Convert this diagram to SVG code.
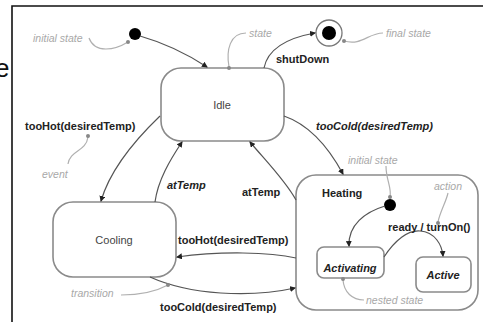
<svg xmlns="http://www.w3.org/2000/svg" width="483" height="322" viewBox="0 0 483 322">
<defs>
<marker id="arr" viewBox="0 0 6 6" refX="5" refY="3" markerWidth="5" markerHeight="5" orient="auto">
<path d="M0,0 L6,3 L0,6 Z" fill="#222"/>
</marker>
<style>
.node{fill:#fff;stroke:#8a8a8a;stroke-width:1.6}
.conn{fill:none;stroke:#555;stroke-width:1.2}
.note{fill:none;stroke:#b0b0b0;stroke-width:1.2}
.dot{fill:#888}
.lbl{font-family:"Liberation Sans",Arial,sans-serif;font-size:11px;font-weight:bold;fill:#222}
.ann{font-family:"Liberation Sans",Arial,sans-serif;font-size:10.5px;font-style:italic;fill:#a8a8a8}
.name{font-family:"Liberation Sans",Arial,sans-serif;font-size:11px;fill:#444;text-anchor:middle}
</style>
</defs>
<rect width="483" height="322" fill="#fff"/>
<text x="-5" y="77" font-family="Liberation Sans, Arial, sans-serif" font-size="26" fill="#111">e</text>
<path d="M12,322 V6 H483" fill="none" stroke="#111" stroke-width="1.6"/>

<g id="initial">
<circle cx="135" cy="34" r="6" fill="#000"/>
</g>
<g id="final">
<circle cx="329" cy="33" r="13" fill="#fff" stroke="#777" stroke-width="1.3"/>
<circle cx="329" cy="33" r="7" fill="#000"/>
</g>
<g id="idle">
<rect class="node" x="161" y="68" width="123" height="73" rx="20"/>
<text class="name" x="222" y="109">Idle</text>
</g>
<g id="cooling">
<rect class="node" x="53" y="202" width="123" height="75" rx="20"/>
<text class="name" x="114" y="244" font-size="12">Cooling</text>
</g>
<g id="heating">
<rect class="node" x="296" y="175" width="182" height="135" rx="20"/>
<text class="lbl" x="322" y="197">Heating</text>
</g>
<g id="heating-initial">
<circle cx="390" cy="205" r="6" fill="#000"/>
</g>
<g id="activating">
<rect class="node" x="317" y="247" width="67" height="31" rx="7"/>
<text class="lbl" x="350" y="272" text-anchor="middle" font-style="italic">Activating</text>
</g>
<g id="active">
<rect class="node" x="416" y="257" width="55" height="35" rx="7"/>
<text class="lbl" x="443" y="279" text-anchor="middle" font-style="italic">Active</text>
</g>

<g id="connectors">
<path class="conn" d="M140,36 Q175,46 207,67" marker-end="url(#arr)"/>
<path class="conn" d="M264,68 C268,48 287,38 315,33" marker-end="url(#arr)"/>
<path class="conn" d="M160,116 C135,140 110,170 101,201" marker-end="url(#arr)"/>
<path class="conn" d="M155,202 C158,180 170,160 182,142" marker-end="url(#arr)"/>
<path class="conn" d="M284,116 C310,125 330,150 343,174" marker-end="url(#arr)"/>
<path class="conn" d="M296,200 C285,180 265,160 250,142" marker-end="url(#arr)"/>
<path class="conn" d="M296,258 C270,252 220,251 177,257" marker-end="url(#arr)"/>
<path class="conn" d="M150,277 C190,295 250,298 295,288" marker-end="url(#arr)"/>
<path class="conn" d="M385,206 C365,212 348,225 349,246" marker-end="url(#arr)"/>
<path class="conn" d="M384,257 C395,240 408,230 420,231 C435,232 442,245 443,256" marker-end="url(#arr)"/>
</g>

<g id="labels">
<text class="lbl" x="276" y="63">shutDown</text>
<text class="lbl" x="25" y="130">tooHot(desiredTemp)</text>
<text class="lbl" x="316" y="130" font-style="italic">tooCold(desiredTemp)</text>
<text class="lbl" x="167" y="189" font-style="italic">atTemp</text>
<text class="lbl" x="242" y="196">atTemp</text>
<text class="lbl" x="178" y="244">tooHot(desiredTemp)</text>
<text class="lbl" x="160" y="311">tooCold(desiredTemp)</text>
<text class="lbl" x="388" y="231">ready / turnOn()</text>
</g>

<g id="annotations">
<text class="ann" x="33" y="42">initial state</text>
<path class="note" d="M89,38 C95,54 115,50 128,42"/>
<circle class="dot" cx="128" cy="42" r="2"/>
<text class="ann" x="249" y="37">state</text>
<path class="note" d="M246,33 C230,33 226,50 229,67"/>
<circle class="dot" cx="229" cy="68" r="2"/>
<text class="ann" x="386" y="37">final state</text>
<path class="note" d="M383,33 C368,33 362,46 344,41"/>
<circle class="dot" cx="344" cy="41" r="2"/>
<text class="ann" x="42" y="178">event</text>
<path class="note" d="M88,137 C86,152 70,150 68,164"/>
<circle class="dot" cx="88" cy="136" r="2"/>
<text class="ann" x="71" y="297">transition</text>
<path class="note" d="M121,295 C140,295 155,292 168,285"/>
<circle class="dot" cx="168" cy="285" r="2"/>
<text class="ann" x="348" y="164">initial state</text>
<path class="note" d="M386,166 C386,180 392,188 390,197"/>
<circle class="dot" cx="390" cy="197" r="2"/>
<text class="ann" x="434" y="190">action</text>
<path class="note" d="M448,193 C446,202 440,212 438,222"/>
<circle class="dot" cx="438" cy="223" r="2"/>
<text class="ann" x="366" y="304">nested state</text>
<path class="note" d="M364,300 C352,300 344,292 343,280"/>
<circle class="dot" cx="343" cy="279" r="2"/>
</g>
</svg>
